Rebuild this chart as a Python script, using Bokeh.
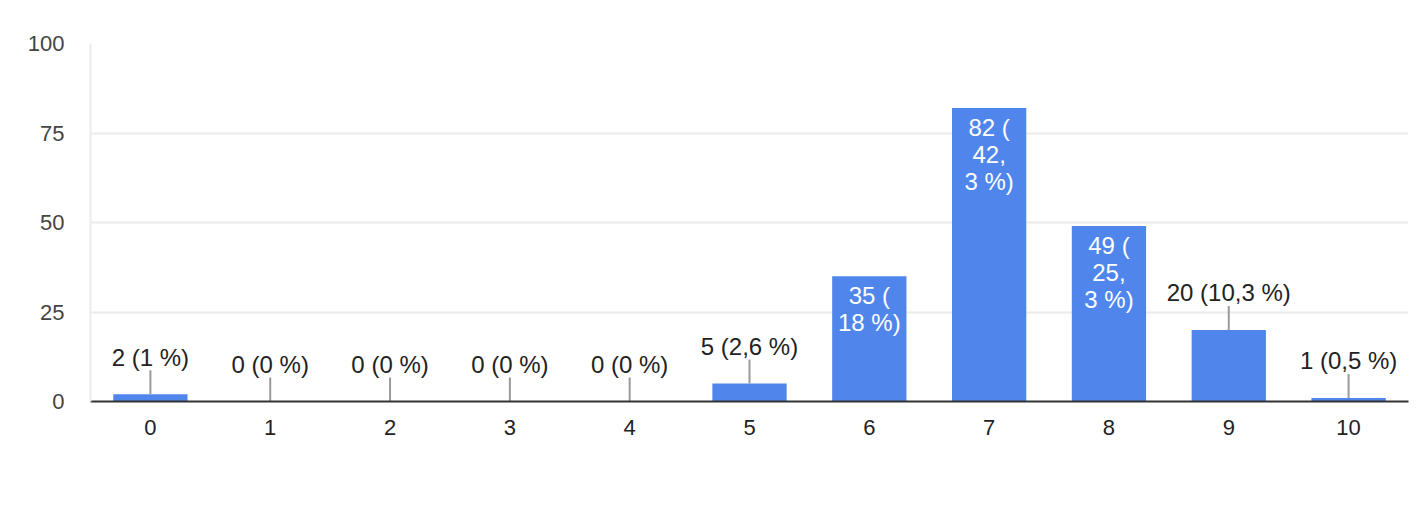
from bokeh.plotting import figure
from bokeh.models import ColumnDataSource, FactorRange, Range1d, FixedTicker
from bokeh.embed import file_html
from bokeh.resources import INLINE
from bokeh.core.properties import value

categories = ["0", "1", "2", "3", "4", "5", "6", "7", "8", "9", "10"]
counts = [2, 0, 0, 0, 0, 5, 35, 82, 49, 20, 1]
labels = ["2 (1 %)", "0 (0 %)", "0 (0 %)", "0 (0 %)", "0 (0 %)", "5 (2,6 %)",
          "35 (\n18 %)", "82 (\n42,\n3 %)", "49 (\n25,\n3 %)", "20 (10,3 %)", "1 (0,5 %)"]
y_ticks = [0, 25, 50, 75, 100]

FONT = "Liberation Sans"
BAR = "#5086EC"
LEAD = 6.7  # leader length in data units (~24px)

p = figure(width=1424, height=500, x_range=FactorRange(factors=categories),
           y_range=Range1d(0, 100), output_backend="svg", toolbar_location=None,
           min_border_left=90, min_border_right=16, min_border_top=43, min_border_bottom=99)
p.outline_line_color = None
p.background_fill_color = "white"

src = ColumnDataSource(dict(x=categories, top=counts))
p.vbar(x="x", top="top", width=0.62, source=src, color=BAR, line_color=None)

inside = [i for i, c in enumerate(counts) if c >= 30]
outside = [i for i, c in enumerate(counts) if c < 30]

out_src = ColumnDataSource(dict(
    x=[categories[i] for i in outside],
    y0=[counts[i] for i in outside],
    y1=[counts[i] + LEAD for i in outside],
    t=[labels[i] for i in outside]))
p.segment(x0="x", y0="y0", x1="x", y1="y1", source=out_src, line_color="#9a9a9a", line_width=2)
p.text(x="x", y="y1", text="t", source=out_src, text_align="center", text_baseline="alphabetic",
       y_offset=-13, text_font=value(FONT), text_font_size="24px", text_color="#222222")

in_src = ColumnDataSource(dict(
    x=[categories[i] for i in inside],
    y=[counts[i] for i in inside],
    t=[labels[i] for i in inside]))
p.text(x="x", y="y", text="t", source=in_src, text_align="center", text_baseline="top",
       y_offset=6, text_font=value(FONT), text_font_size="24px", text_color="white",
       text_line_height=1.0)

p.xgrid.grid_line_color = None
p.ygrid.grid_line_color = "#ebebeb"
p.ygrid.grid_line_width = 2
p.yaxis.ticker = FixedTicker(ticks=y_ticks)
p.ygrid.ticker = FixedTicker(ticks=y_ticks)

p.yaxis.axis_line_color = "#ebebeb"
p.yaxis.axis_line_width = 2
p.yaxis.major_tick_line_color = None
p.yaxis.minor_tick_line_color = None
p.yaxis.major_tick_out = 0
p.yaxis.major_label_standoff = 26
p.yaxis.major_label_text_font = FONT
p.yaxis.major_label_text_font_size = "22px"
p.yaxis.major_label_text_color = "#444444"

p.xaxis.axis_line_color = "#333333"
p.xaxis.axis_line_width = 2
p.xaxis.major_tick_line_color = None
p.xaxis.minor_tick_line_color = None
p.xaxis.major_tick_out = 0
p.xaxis.major_label_standoff = 18
p.xaxis.major_label_text_font = FONT
p.xaxis.major_label_text_font_size = "22px"
p.xaxis.major_label_text_color = "#222222"

open("out.html", "w").write(file_html(p, INLINE))
